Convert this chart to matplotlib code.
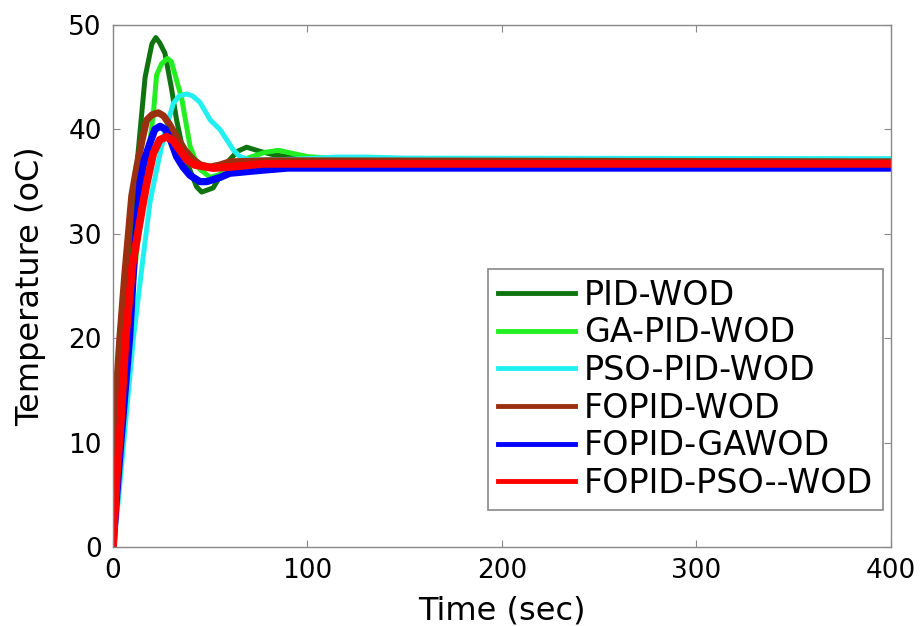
import matplotlib
matplotlib.use("Agg")
import matplotlib.pyplot as plt

# step responses (time in sec, temperature in oC)
t_pid = [0, 1, 4, 9, 14, 16.5, 20, 22, 24, 26.7, 30, 32.7, 36, 39.6, 43, 45.6, 51.5, 56, 60, 64, 68.7, 75.6, 82, 89, 100, 120, 400]
y_pid = [0, 12, 20, 30, 40, 45, 48.2, 48.8, 48.3, 47.3, 44, 40.9, 38, 36.1, 34.5, 34.0, 34.4, 35.8, 37.1, 37.9, 38.3, 37.9, 37.6, 37.4, 37.1, 37.0, 37.0]

t_ga = [0, 2, 6, 12, 17, 20.7, 22.4, 25, 28, 30, 33, 35.3, 39.6, 44, 50, 55, 60, 70, 78, 85, 92.5, 100, 115, 400]
y_ga = [0, 8, 18, 28, 36, 41.4, 45.2, 46.3, 46.8, 46.5, 44.5, 43, 38.4, 36.3, 35.4, 35.7, 36.4, 37.3, 37.8, 38.0, 37.7, 37.4, 37.2, 37.1]

t_pso = [0, 2, 5, 8, 10.5, 15, 19, 20.6, 24, 27, 29.3, 31, 34, 37.9, 41, 44.7, 50, 55, 58.5, 62, 65.3, 70, 85, 100, 115, 130, 150, 400]
y_pso = [0, 3, 9, 15, 20, 27, 33, 34.5, 37.5, 40, 41.4, 42.5, 43.2, 43.4, 43.2, 42.6, 40.9, 40.0, 39.0, 38.0, 37.4, 37.1, 37.1, 37.2, 37.35, 37.35, 37.25, 37.2]

t_fo = [0, 1, 3.5, 6, 9.6, 12.2, 15, 17.3, 20, 23.3, 26, 29, 32.7, 37, 41.3, 45, 49.9, 55, 60, 80, 400]
y_fo = [0, 13, 20, 26, 33.6, 36.4, 39, 40.9, 41.4, 41.6, 41.3, 40.5, 39.3, 38, 37.1, 36.6, 36.4, 36.6, 36.9, 37.0, 36.9]

t_foga = [0, 1.5, 4, 8.5, 11, 13.9, 16, 19, 21.5, 24.2, 27, 30, 32.7, 36, 39.6, 44.7, 48.2, 55, 60, 77, 90, 400]
y_foga = [0, 4, 10, 20, 28, 34.9, 37, 38.7, 40, 40.3, 40, 38.8, 37.4, 36.4, 35.6, 35.0, 35.0, 35.4, 35.8, 36.1, 36.3, 36.3]

t_fopso = [0, 2, 4, 6.5, 10, 15.5, 17.3, 20.7, 24, 27.6, 31, 34, 37.9, 42, 48.2, 51.5, 60, 77, 400]
y_fopso = [0, 7, 12, 20, 27, 33, 34.8, 37.7, 39, 39.3, 38.9, 38.1, 37.1, 36.6, 36.4, 36.3, 36.4, 36.7, 36.7]

labels = ['PID-WOD', 'GA-PID-WOD', 'PSO-PID-WOD', 'FOPID-WOD', 'FOPID-GAWOD', 'FOPID-PSO--WOD']
colors = ['#0f730f', '#22ee22', '#22f0f0', '#9a3010', '#0000ff', '#ff0000']
widths = [3.6, 3.6, 3.6, 5.0, 5.2, 5.6]

series = [(t_pid, y_pid), (t_ga, y_ga), (t_pso, y_pso),
          (t_fo, y_fo), (t_foga, y_foga), (t_fopso, y_fopso)]

fig = plt.figure(figsize=(9.21, 6.26), dpi=100)
ax = fig.add_axes([0.1227, 0.1262, 0.8447, 0.8338])

for (t, y), lab, c, w in zip(series, labels, colors, widths):
    ax.plot(t, y, color=c, lw=w, label=lab, solid_joinstyle='round')

ax.set_xlim(0, 400)
ax.set_ylim(0, 50)
ax.set_xticks([0, 100, 200, 300, 400])
ax.set_yticks([0, 10, 20, 30, 40, 50])
ax.tick_params(direction='in', length=5, width=0.8, color='#888888',
               top=True, right=True, labelsize=19, pad=8)
for s in ax.spines.values():
    s.set_color('#888888')
    s.set_linewidth(1.0)

ax.set_xlabel('Time (sec)', fontsize=23, labelpad=8)
ax.set_ylabel('Temperature (oC)', fontsize=23, labelpad=16)

leg = ax.legend(loc='lower right', bbox_to_anchor=(0.99, 0.071), borderaxespad=0,
                fontsize=24, handlelength=2.3, handletextpad=0.28, labelspacing=0.14,
                fancybox=False, edgecolor='#888888', framealpha=1, borderpad=0.3)
leg.get_frame().set_linewidth(1.2)
for h in leg.get_lines():
    h.set_linewidth(3.5)

fig.savefig('out.png', dpi=100)
